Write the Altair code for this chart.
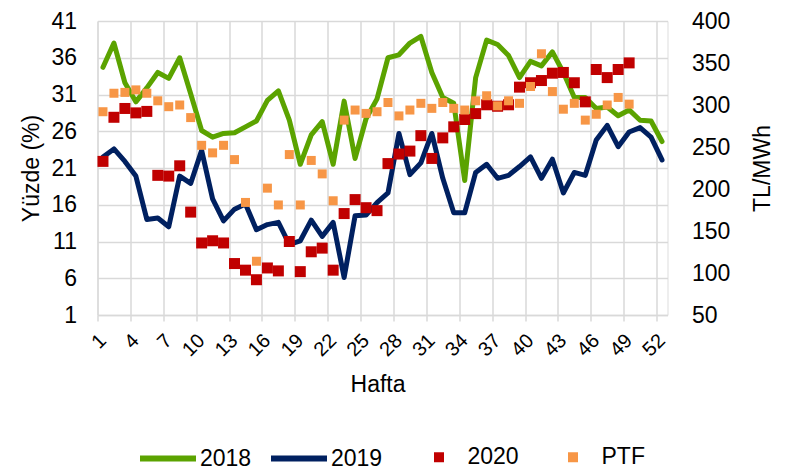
import altair as alt
import pandas as pd

FONT = "Liberation Sans"

weeks = list(range(1, 53))
y2018 = [34.7, 38.0, 32.6, 30.0, 31.9, 34.0, 33.2, 36.0, 31.1, 26.1,
         25.2, 25.7, 25.8, 26.6, 27.4, 30.2, 31.5, 27.5, 21.5, 25.5,
         27.3, 21.5, 30.1, 22.3, 27.7, 30.4, 36.0, 36.4, 38.0, 38.9,
         34.0, 30.6, 29.8, 19.3, 33.3, 38.4, 37.8, 36.3, 33.3, 35.5,
         34.9, 36.8, 34.0, 30.6, 30.6, 29.1, 29.3, 28.1, 28.9, 27.5,
         27.4, 24.6]
y2019 = [22.5, 23.6, 21.9, 19.9, 14.0, 14.2, 13.0, 19.9, 18.9, 23.4,
         16.8, 13.8, 15.4, 16.1, 12.6, 13.3, 13.6, 10.6, 11.1, 13.9,
         11.7, 13.6, 6.1, 14.5, 14.6, 16.3, 17.6, 25.7, 20.1, 21.7,
         25.7, 19.6, 14.9, 14.9, 20.4, 21.5, 19.6, 20.0, 21.2, 22.5,
         19.6, 22.2, 17.6, 20.4, 20.0, 24.8, 26.8, 23.9, 25.9, 26.5,
         25.2, 22.1]
y2020 = [21.9, 27.9, 29.1, 28.5, 28.7, 20.0, 19.9, 21.3, 15.0, 10.8,
         11.1, 10.8, 8.0, 7.1, 5.8, 7.4, 7.0, 11.0, 6.9, 9.6,
         10.1, 7.1, 14.8, 16.7, 15.6, 15.2, 21.6, 22.9, 23.3, 25.4,
         22.3, 25.1, 26.6, 27.6, 28.4, 29.6, 29.4, 29.6, 32.0, 32.6,
         32.9, 33.9, 34.0, 32.6, 30.0, 34.4, 33.3, 34.4, 35.3]
ptf = [292, 314, 315, 318, 314, 305, 298, 300, 285, 252,
       243, 252, 235, 184, 114, 201, 181, 241, 181, 234,
       218, 186, 282, 294, 290, 292, 303, 287, 294, 302,
       296, 303, 296, 294, 305, 311, 299, 305, 302, 322,
       361, 316, 295, 302, 282, 289, 300, 309, 301]

left_ticks = [1, 6, 11, 16, 21, 26, 31, 36, 41]
right_ticks = [50, 100, 150, 200, 250, 300, 350, 400]
x_grid = [0.5 + 3 * k for k in range(18)]

line_names = ["2018", "2019"]
line_colors = ["#5BA300", "#002060"]
pt_names = ["2020", "PTF"]
pt_colors = ["#C00000", "#F79646"]

lines_df = pd.DataFrame({
    "Hafta": weeks * 2,
    "val": y2018 + y2019,
    "seri": ["2018"] * len(y2018) + ["2019"] * len(y2019),
})
red_df = pd.DataFrame({"Hafta": weeks[:len(y2020)], "val": y2020, "seri": "2020"})
ptf_df = pd.DataFrame({"Hafta": weeks[:len(ptf)], "val": ptf, "seri": "PTF"})

TOP = 13
H = 294

x_axis = alt.Axis(
    values=x_grid, labelExpr="datum.value + 0.5", grid=True, gridColor="#D9D9D9",
    gridWidth=1.5, domain=True, domainColor="#D9D9D9", domainWidth=1.5,
    ticks=True, tickColor="#D9D9D9", tickSize=6, tickWidth=1.5,
    labelAngle=315, labelAlign="right", labelBaseline="top", labelOffset=-2,
    labelPadding=9, labelFontSize=20, labelFont=FONT, labelColor="#000000",
    title="Hafta", titleFontSize=23, titleFont=FONT, titleFontWeight="normal",
    titleColor="#000000", titleX=280, titleY=69, titleBaseline="middle",
    titleAlign="center",
)
x_enc = alt.X("Hafta:Q", scale=alt.Scale(domain=[0.5, 52.5], nice=False, zero=False),
              axis=x_axis)

y_left = alt.Y(
    "val:Q",
    scale=alt.Scale(domain=[1, 41], nice=False, zero=False),
    axis=alt.Axis(
        values=left_ticks, grid=True, gridColor="#D9D9D9", gridWidth=1.5,
        domain=False, ticks=False, labelPadding=21, labelFontSize=23,
        labelFont=FONT, labelColor="#000000", title="Yüzde (%)", titleFontSize=23,
        titleFont=FONT, titleFontWeight="normal", titleColor="#000000",
        titleAngle=270, titleX=-66, titleBaseline="middle",
    ),
)

lines = alt.Chart(lines_df).mark_line(strokeWidth=5, strokeJoin="round", strokeCap="round").encode(
    x=x_enc,
    y=y_left,
    color=alt.Color(
        "seri:N",
        scale=alt.Scale(domain=line_names, range=line_colors),
        legend=alt.Legend(
            orient="none", legendX=39.5, legendY=409.5 - (TOP - 10), direction="horizontal",
            title=None, symbolType="stroke", symbolSize=3136, symbolStrokeWidth=6,
            labelFontSize=23, labelFont=FONT, labelColor="#000000", labelOffset=1,
            columnPadding=7,
        ),
    ),
    detail="seri:N",
)

pts_legend = alt.Legend(
    orient="none", legendX=330, legendY=427.5 - (TOP - 10), direction="horizontal",
    title=None, symbolType="square", symbolSize=100,
    labelFontSize=23, labelFont=FONT, labelColor="#000000", labelOffset=17,
    columnPadding=42, symbolOpacity=1,
)
fill_scale = alt.Scale(domain=pt_names, range=pt_colors)

red = alt.Chart(red_df).mark_square(size=121, opacity=1, filled=True).encode(
    x=x_enc,
    y=y_left,
    fill=alt.Fill("seri:N", scale=fill_scale, legend=pts_legend),
)

left = alt.layer(lines, red)

ptf_layer = alt.Chart(ptf_df).mark_square(size=81, opacity=1, filled=True).encode(
    x=x_enc,
    y=alt.Y(
        "val:Q",
        scale=alt.Scale(domain=[50, 400], nice=False, zero=False),
        axis=alt.Axis(
            orient="right", values=right_ticks, grid=False, domain=False,
            ticks=False, labelPadding=24, labelFontSize=23, labelFont=FONT,
            labelColor="#000000", title="TL/MWh", titleFontSize=23, titleFont=FONT,
            titleFontWeight="normal", titleColor="#000000", titleAngle=270,
            titleX=95, titleBaseline="middle",
        ),
    ),
    fill=alt.Fill("seri:N", scale=fill_scale, legend=pts_legend),
)

chart = alt.layer(left, ptf_layer).resolve_scale(y="independent").properties(
    width=570, height=H,
    autosize=alt.AutoSizeParams(type="none"),
    padding={"left": 89.5, "top": TOP, "right": 110.5, "bottom": 157},
).configure_view(stroke=None).configure(background="white")

chart.save("out.html", embed_options={"renderer": "svg", "actions": False})
